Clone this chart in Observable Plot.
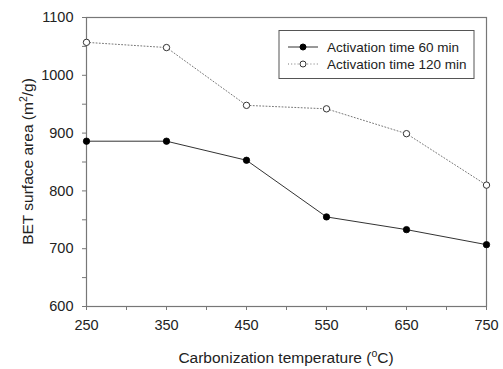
<!DOCTYPE html>
<html><head><meta charset="utf-8">
<script src="https://cdn.jsdelivr.net/npm/d3@7"></script>
<script src="https://cdn.jsdelivr.net/npm/@observablehq/plot@0.6"></script>
<style>
body{margin:0;background:#fff;}
svg{font-family:"Liberation Sans",Arial,sans-serif;}
</style></head>
<body><div id="chart"></div>
<script>
const temperatures = [250, 350, 450, 550, 650, 750];
const bet60 = [886, 886, 853, 755, 733, 707];
const bet120 = [1057, 1048, 948, 942, 899, 810];
const seriesNames = ["Activation time 60 min", "Activation time 120 min"];
const xTicks = [250, 350, 450, 550, 650, 750];
const xMinor = [300, 400, 500, 600, 700];
const yTicks = [600, 700, 800, 900, 1000, 1100];
const yMinor = [650, 750, 850, 950, 1050];

const d60 = temperatures.map((t, i) => ({t, v: bet60[i]}));
const d120 = temperatures.map((t, i) => ({t, v: bet120[i]}));

const axisColor = "#777";
const lineColor = "#333";

const chart = Plot.plot({
  width: 503, height: 369,
  marginLeft: 86, marginRight: 17, marginTop: 17, marginBottom: 63,
  style: {fontFamily: "Liberation Sans, Arial, sans-serif", fontSize: "14px", color: "#222", background: "#fff"},
  x: {domain: [250, 750]},
  y: {domain: [600, 1100]},
  marks: [
    Plot.frame({stroke: axisColor, strokeWidth: 1.2}),
    Plot.axisX({ticks: xTicks.concat(xMinor), tickSize: 4, tickPadding: 9, stroke: axisColor,
      tickFormat: d => xTicks.includes(d) ? String(d) : "", label: null, fontSize: 14.5, fill: "#222"}),
    Plot.axisY({ticks: yTicks.concat(yMinor), tickSize: 4, tickPadding: 9, stroke: axisColor,
      tickFormat: d => yTicks.includes(d) ? String(d) : "", label: null, fontSize: 14.5, fill: "#222"}),
    Plot.line(d120, {x: "t", y: "v", stroke: "#777", strokeWidth: 1, strokeDasharray: "1,2.2"}),
    Plot.dot(d120, {x: "t", y: "v", r: 3.2, fill: "#fff", stroke: lineColor, strokeWidth: 1}),
    Plot.line(d60, {x: "t", y: "v", stroke: lineColor, strokeWidth: 1}),
    Plot.dot(d60, {x: "t", y: "v", r: 3.2, fill: "#000", stroke: "#000", strokeWidth: 0.8})
  ]
});
document.getElementById("chart").appendChild(chart);

(function () {
  const svg = d3.select(chart);
  const xs = chart.scale("x"), ys = chart.scale("y");
  const pLeft = xs.range[0], pRight = xs.range[1];
  const pTop = ys.range[1], pBottom = ys.range[0];

  const xt = svg.append("text").attr("x", (pLeft + pRight) / 2).attr("y", pBottom + 57)
    .attr("text-anchor", "middle").attr("font-size", 15.5).attr("fill", "#222");
  xt.append("tspan").text("Carbonization temperature (");
  xt.append("tspan").text("o").attr("font-size", 10.5).attr("dy", -6.5);
  xt.append("tspan").text("C)").attr("dy", 6.5);

  const yt = svg.append("text").attr("transform", `translate(33,${(pTop + pBottom) / 2}) rotate(-90)`)
    .attr("text-anchor", "middle").attr("font-size", 15.5).attr("fill", "#222");
  yt.append("tspan").text("BET surface area (m");
  yt.append("tspan").text("2").attr("font-size", 10.5).attr("dy", -6.5);
  yt.append("tspan").text("/g)").attr("dy", 6.5);

  const lg = svg.append("g").attr("text-anchor", "start");
  lg.append("rect").attr("x", 279).attr("y", 30.5).attr("width", 195).attr("height", 48)
    .attr("fill", "#fff").attr("stroke", "#555").attr("stroke-width", 1);
  const rows = [
    {name: seriesNames[0], y: 47, dash: null, stroke: lineColor, fill: "#000"},
    {name: seriesNames[1], y: 64, dash: "1,2.2", stroke: "#777", fill: "#fff"}
  ];
  rows.forEach(r => {
    lg.append("line").attr("x1", 288).attr("x2", 318).attr("y1", r.y).attr("y2", r.y)
      .attr("stroke", r.stroke).attr("stroke-width", 1).attr("stroke-dasharray", r.dash);
    lg.append("circle").attr("cx", 303).attr("cy", r.y).attr("r", 3)
      .attr("fill", r.fill).attr("stroke", r.fill === "#000" ? "#000" : lineColor);
    lg.append("text").attr("x", 327).attr("y", r.y).attr("dy", "0.35em")
      .attr("text-anchor", "start").attr("font-size", 13.5).attr("fill", "#222").text(r.name);
  });
})();
</script></body></html>
